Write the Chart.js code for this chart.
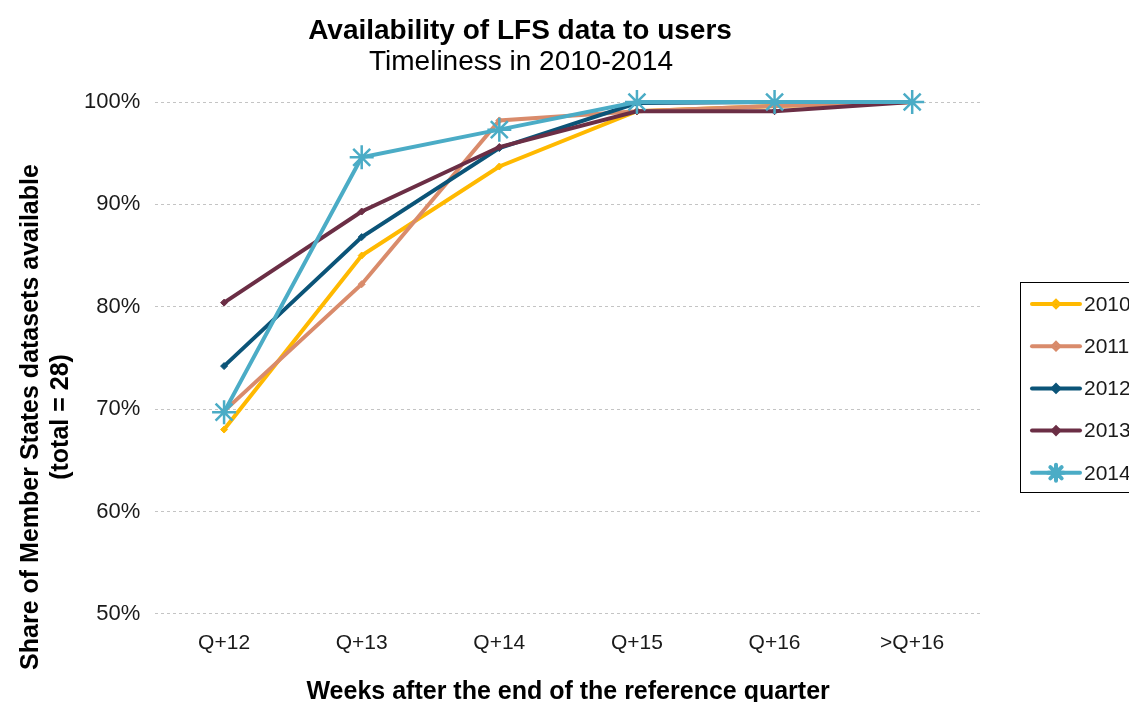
<!DOCTYPE html>
<html>
<head>
<meta charset="utf-8">
<script src="https://cdn.jsdelivr.net/npm/chart.js@4"></script>
<style>
  html, body { margin: 0; padding: 0; background: #fff; }
  #wrap { width: 1129px; height: 702px; position: relative; }
</style>
</head>
<body>
<div id="wrap"><canvas id="myChart" width="1129" height="702"></canvas></div>
<script>
// DATA //
var categories = ['Q+12', 'Q+13', 'Q+14', 'Q+15', 'Q+16', '>Q+16'];
var years = ['2010', '2011', '2012', '2013', '2014'];
var share2010 = [68.0, 85.0, 93.7, 99.1, 99.6, 100];
var share2011 = [69.8, 82.2, 98.2, 99.1, 99.6, 100];
var share2012 = [74.2, 86.8, 95.5, 99.9, 100, 100];
var share2013 = [80.4, 89.3, 95.6, 99.1, 99.1, 100];
var share2014 = [69.7, 94.6, 97.3, 100, 100, 100];
var yTicks = [50, 60, 70, 80, 90, 100];

var colors = ['#FFB900', '#D98B6B', '#0B5478', '#6B2E45', '#4BACC6'];
var font = '"Liberation Sans", Arial, sans-serif';

function series(label, data, color, order, isStar) {
    return {
        label: label,
        data: data,
        borderColor: color,
        backgroundColor: color,
        borderWidth: 4,
        tension: 0,
        order: order,
        clip: false,
        pointStyle: isStar ? 'star' : 'rectRot',
        pointRadius: isStar ? 12 : 3.5,
        pointBorderWidth: isStar ? 2.5 : 1,
        pointHoverRadius: isStar ? 12 : 3.5
    };
}

// titles, y-axis title and boxed legend
var extras = {
    id: 'extras',
    afterDraw: function (chart) {
        var c = chart.ctx;
        c.save();
        c.fillStyle = '#000';
        c.textAlign = 'center';
        c.textBaseline = 'middle';
        c.font = 'bold 28px ' + font;
        c.fillText('Availability of LFS data to users', 520, 31);
        c.font = '28px ' + font;
        c.fillText('Timeliness in 2010-2014', 521, 62);

        // y axis title
        c.save();
        c.translate(31, 417);
        c.rotate(-Math.PI / 2);
        c.font = 'bold 25px ' + font;
        c.fillText('Share of Member States datasets available', 0, 0);
        c.fillText('(total = 28)', 0, 30);
        c.restore();

        // legend
        c.strokeStyle = '#000';
        c.lineWidth = 1;
        c.strokeRect(1020.5, 282.5, 120, 210);
        c.textAlign = 'left';
        c.font = '21px ' + font;
        chart.data.datasets.forEach(function (ds, i) {
            var y = 304 + i * 42.2;
            c.strokeStyle = ds.borderColor;
            c.lineWidth = 4;
            c.lineCap = 'round';
            c.beginPath();
            c.moveTo(1032, y);
            c.lineTo(1080, y);
            c.stroke();
            Chart.helpers.drawPoint(c, {
                pointStyle: ds.pointStyle,
                radius: ds.pointStyle === 'star' ? 8 : 3,
                borderWidth: 1.5
            }, 1056, y);
            c.fillStyle = '#1a1a1a';
            c.fillText(ds.label, 1084, y + 1);
        });
        c.restore();
    }
};

var ctx = document.getElementById('myChart').getContext('2d');
var chart = new Chart(ctx, {
    type: 'line',
    data: {
        labels: categories,
        datasets: [
            series(years[0], share2010, colors[0], 4, false),
            series(years[1], share2011, colors[1], 3, false),
            series(years[2], share2012, colors[2], 2, false),
            series(years[3], share2013, colors[3], 1, false),
            series(years[4], share2014, colors[4], 0, true)
        ]
    },
    options: {
        responsive: false,
        animation: false,
        layout: { padding: { left: 69, right: 148, top: 102, bottom: -5 } },
        plugins: {
            legend: { display: false },
            title: { display: false },
            tooltip: { enabled: false }
        },
        scales: {
            x: {
                offset: true,
                grid: { display: false, drawTicks: false },
                border: { display: false },
                ticks: { color: '#1a1a1a', padding: 17, font: { family: font, size: 21 } },
                title: {
                    display: true,
                    text: 'Weeks after the end of the reference quarter',
                    color: '#000',
                    font: { family: font, size: 25, weight: 'bold' },
                    padding: { top: 4, bottom: 0 }
                }
            },
            y: {
                min: 50,
                max: 100,
                afterBuildTicks: function (axis) {
                    axis.ticks = yTicks.map(function (v) { return { value: v }; });
                },
                grid: { color: '#c4c4c4', lineWidth: 1, drawTicks: false },
                border: { display: false, dash: [3, 3] },
                ticks: {
                    color: '#1a1a1a',
                    padding: 15,
                    font: { family: font, size: 22 },
                    callback: function (v) { return v + '%'; }
                }
            }
        }
    },
    plugins: [extras]
});
</script>
</body>
</html>
